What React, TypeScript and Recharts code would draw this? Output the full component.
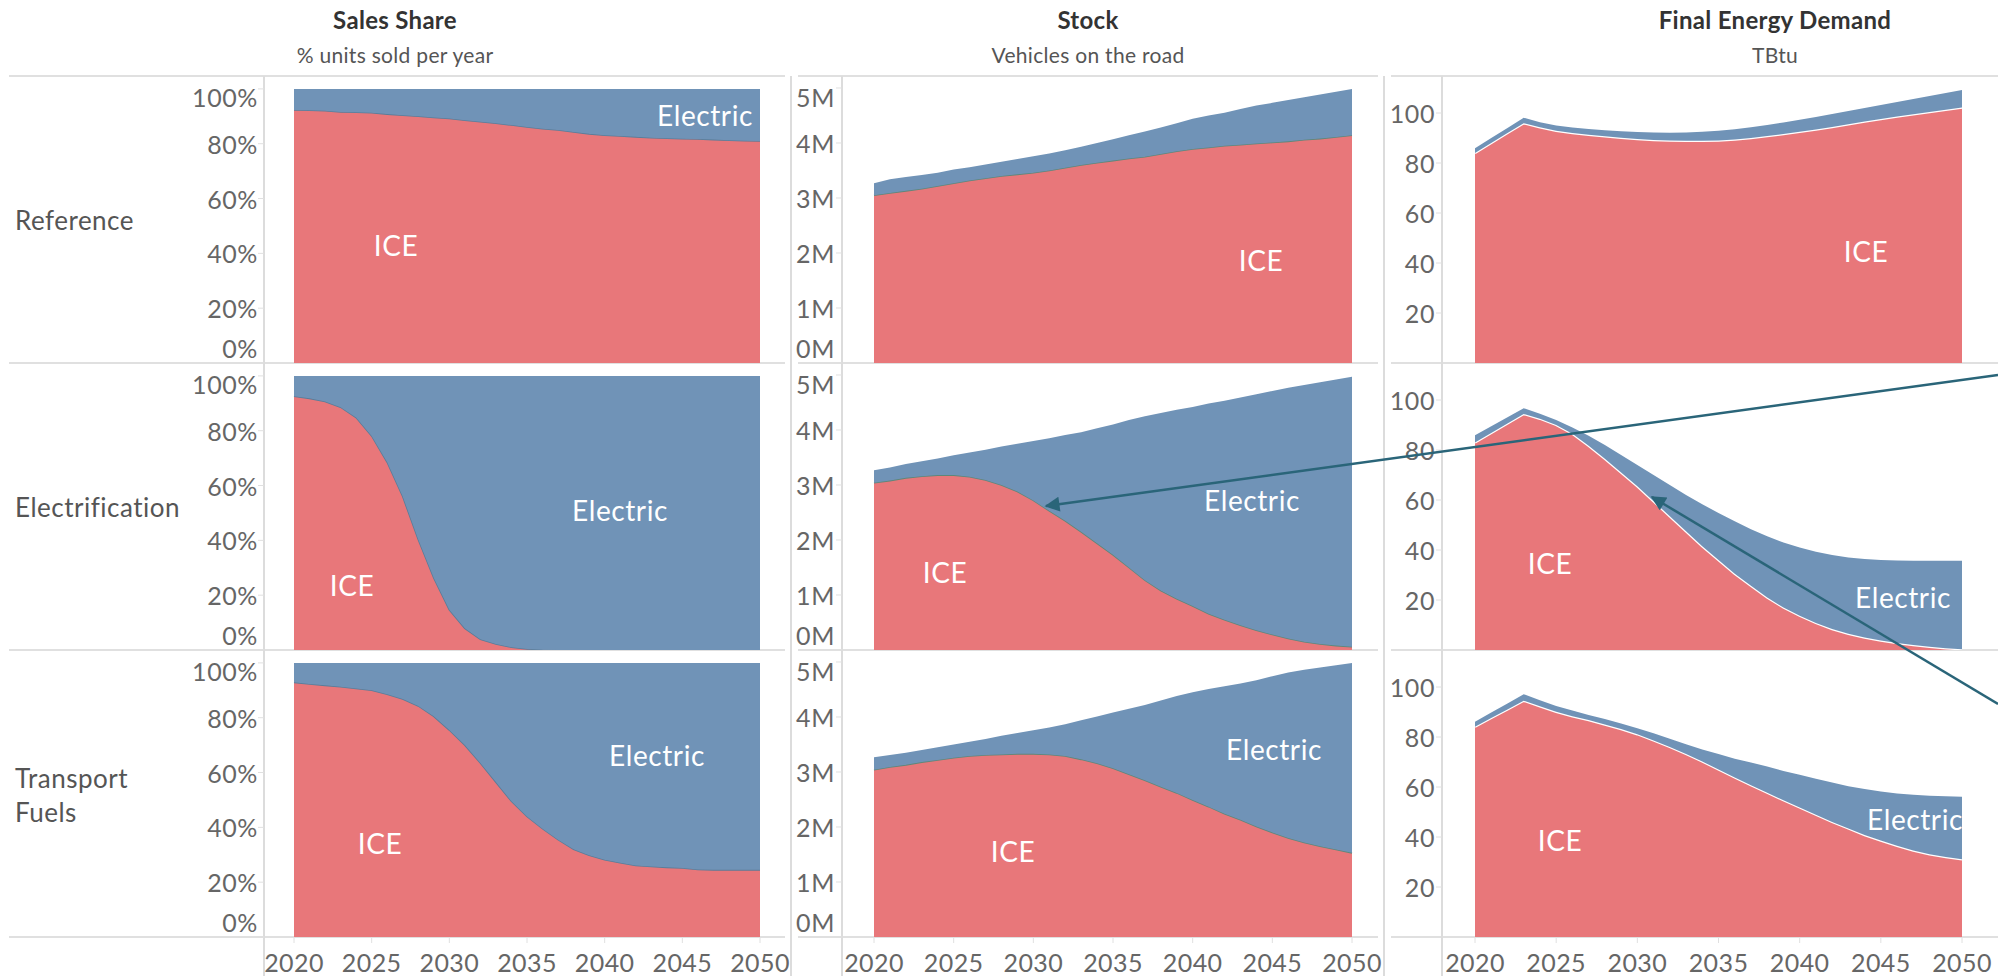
import React from 'react'
import { AreaChart, Area, XAxis, YAxis } from 'recharts'

// years on the x axis
const YEARS = [
  2020, 2021, 2022, 2023, 2024, 2025, 2026, 2027, 2028, 2029, 2030,
  2031, 2032, 2033, 2034, 2035, 2036, 2037, 2038, 2039, 2040,
  2041, 2042, 2043, 2044, 2045, 2046, 2047, 2048, 2049, 2050,
]
const X_TICKS = [2020, 2025, 2030, 2035, 2040, 2045, 2050]

const SCENARIOS = ['Reference', 'Electrification', 'Transport Fuels']

// Sales share (% of units sold)
const salesIceRef = [92.3, 92.2, 92.0, 91.6, 91.5, 91.3, 90.8, 90.4, 90.0, 89.6, 89.2, 88.6, 88.0, 87.5, 86.8, 86.1, 85.5, 85.0, 84.3, 83.6, 83.1, 82.8, 82.5, 82.2, 82.0, 81.8, 81.7, 81.5, 81.3, 81.1, 81.0]
const salesElecRef = [7.7, 7.8, 8.0, 8.4, 8.5, 8.7, 9.2, 9.6, 10.0, 10.4, 10.8, 11.4, 12.0, 12.5, 13.2, 13.9, 14.5, 15.0, 15.7, 16.4, 16.9, 17.2, 17.5, 17.8, 18.0, 18.2, 18.3, 18.5, 18.7, 18.9, 19.0]
const salesIceElz = [92.6, 91.8, 90.7, 88.6, 84.8, 78.1, 68.5, 56.0, 40.3, 26.3, 14.7, 7.9, 3.9, 2.2, 1.0, 0.4, 0.1, 0, 0, 0, 0, 0, 0, 0, 0, 0, 0, 0, 0, 0, 0]
const salesElecElz = [7.4, 8.2, 9.3, 11.4, 15.2, 21.9, 31.5, 44.0, 59.7, 73.7, 85.3, 92.1, 96.1, 97.8, 99.0, 99.6, 99.9, 100, 100, 100, 100, 100, 100, 100, 100, 100, 100, 100, 100, 100, 100]
const salesIceTf = [92.9, 92.3, 91.8, 91.3, 90.7, 90.0, 88.6, 86.8, 84.3, 80.5, 75.5, 70.0, 63.5, 56.5, 49.5, 44.0, 39.5, 35.5, 32.0, 29.8, 28.2, 27.1, 26.1, 25.7, 25.4, 25.2, 24.6, 24.5, 24.5, 24.5, 24.5]
const salesElecTf = [7.1, 7.7, 8.2, 8.7, 9.3, 10.0, 11.4, 13.2, 15.7, 19.5, 24.5, 30.0, 36.5, 43.5, 50.5, 56.0, 60.5, 64.5, 68.0, 70.2, 71.8, 72.9, 73.9, 74.3, 74.6, 74.8, 75.4, 75.5, 75.5, 75.5, 75.5]

// Stock (millions of vehicles)
const stockIceRef = [3.05, 3.09, 3.13, 3.17, 3.22, 3.27, 3.32, 3.36, 3.40, 3.43, 3.46, 3.50, 3.55, 3.60, 3.64, 3.68, 3.72, 3.75, 3.80, 3.85, 3.89, 3.92, 3.95, 3.97, 3.99, 4.01, 4.03, 4.06, 4.08, 4.11, 4.14]
const stockElecRef = [0.22, 0.25, 0.25, 0.25, 0.24, 0.25, 0.24, 0.25, 0.26, 0.28, 0.30, 0.31, 0.32, 0.33, 0.36, 0.39, 0.42, 0.46, 0.48, 0.51, 0.55, 0.58, 0.60, 0.65, 0.69, 0.72, 0.75, 0.77, 0.80, 0.82, 0.84]
const stockIceElz = [3.04, 3.08, 3.13, 3.16, 3.18, 3.18, 3.15, 3.09, 3.00, 2.88, 2.72, 2.53, 2.35, 2.15, 1.94, 1.73, 1.50, 1.27, 1.08, 0.93, 0.80, 0.66, 0.55, 0.45, 0.36, 0.28, 0.21, 0.15, 0.11, 0.08, 0.06]
const stockElecElz = [0.23, 0.24, 0.25, 0.27, 0.30, 0.36, 0.44, 0.55, 0.70, 0.87, 1.08, 1.32, 1.56, 1.81, 2.09, 2.37, 2.68, 2.98, 3.23, 3.44, 3.62, 3.82, 3.98, 4.14, 4.29, 4.43, 4.56, 4.67, 4.76, 4.84, 4.91]
const stockIceTf = [3.04, 3.09, 3.13, 3.18, 3.22, 3.26, 3.29, 3.31, 3.32, 3.33, 3.33, 3.32, 3.29, 3.23, 3.16, 3.07, 2.96, 2.85, 2.73, 2.62, 2.49, 2.37, 2.24, 2.13, 2.01, 1.90, 1.80, 1.72, 1.65, 1.59, 1.53]
const stockElecTf = [0.23, 0.22, 0.22, 0.22, 0.23, 0.24, 0.26, 0.29, 0.34, 0.38, 0.43, 0.49, 0.58, 0.71, 0.85, 1.01, 1.19, 1.37, 1.57, 1.76, 1.96, 2.14, 2.32, 2.48, 2.66, 2.84, 3.01, 3.14, 3.25, 3.35, 3.45]

// Final energy demand (TBtu)
const energyIceRef = [84.0, 88.0, 92.0, 95.9, 94.3, 92.9, 92.0, 91.3, 90.7, 90.1, 89.6, 89.2, 89.0, 88.9, 88.9, 89.0, 89.4, 90.0, 90.8, 91.6, 92.5, 93.4, 94.4, 95.5, 96.6, 97.6, 98.6, 99.5, 100.4, 101.3, 102.2]
const energyElecRef = [1.9, 2.0, 2.0, 2.2, 2.0, 2.1, 2.2, 2.3, 2.4, 2.6, 2.8, 3.0, 3.1, 3.3, 3.6, 3.9, 4.1, 4.3, 4.4, 4.6, 4.8, 5.0, 5.2, 5.3, 5.4, 5.6, 5.8, 6.1, 6.4, 6.7, 7.0]
const energyIceElz = [83.0, 86.8, 90.6, 94.4, 92.5, 90.0, 86.5, 81.7, 76.5, 71.0, 65.5, 59.5, 53.5, 47.5, 41.5, 36.0, 30.5, 25.7, 21.0, 17.0, 13.7, 10.8, 8.4, 6.5, 5.0, 3.8, 2.8, 2.0, 1.3, 0.7, 0.3]
const energyElecElz = [2.9, 2.7, 2.5, 2.3, 2.0, 2.0, 2.5, 4.0, 5.5, 7.0, 8.5, 10.5, 12.5, 14.5, 16.8, 18.8, 21.0, 22.6, 24.5, 26.0, 27.3, 28.5, 29.6, 30.5, 31.4, 32.2, 33.0, 33.7, 34.4, 35.0, 35.4]
const energyIceTf = [84.1, 87.6, 91.0, 94.5, 92.3, 90.1, 88.3, 86.8, 85.0, 83.2, 81.1, 78.6, 76.0, 73.2, 70.2, 67.0, 63.8, 60.7, 57.7, 54.7, 51.8, 48.9, 46.0, 43.4, 40.8, 38.6, 36.5, 34.6, 33.1, 32.0, 31.1]
const energyElecTf = [2.0, 2.2, 2.4, 2.6, 2.4, 2.3, 2.3, 2.0, 2.2, 2.2, 2.4, 2.9, 3.3, 3.9, 4.8, 6.2, 7.5, 9.1, 10.5, 11.7, 13.1, 14.4, 15.8, 16.9, 18.4, 19.6, 20.9, 22.3, 23.4, 24.3, 25.0]

const SERIES = [
  [[salesIceRef, salesElecRef], [stockIceRef, stockElecRef], [energyIceRef, energyElecRef]],
  [[salesIceElz, salesElecElz], [stockIceElz, stockElecElz], [energyIceElz, energyElecElz]],
  [[salesIceTf, salesElecTf], [stockIceTf, stockElecTf], [energyIceTf, energyElecTf]],
]

const ICE_COLOR = '#e8777a'
const ELEC_COLOR = '#7093b7'
const GRID = '#e0e0e0'
const FONT = 'Lato, "Open Sans", sans-serif'

const ROW_TOPS = [76, 363, 650]
const ROW_H = 287
const AXIS_H = 39
const RIGHT_PAD = 36

const COLS = [
  {
    title: 'Sales Share', subtitle: '% units sold per year', titleX: 395,
    plotLeft: 294, plotRight: 760, axisX: 264, labelRight: 258,
    sepLeft: 9, sepRight: 785,
    yMax: 104.7, ticks: [0, 20, 40, 60, 80, 100], fmt: (v: number) => `${v}%`,
    edge: '#5b7c98', edgeW: 1.6,
  },
  {
    title: 'Stock', subtitle: 'Vehicles on the road', titleX: 1088,
    plotLeft: 874, plotRight: 1352, axisX: 842, labelRight: 835,
    sepLeft: 798, sepRight: 1378,
    yMax: 5.218, ticks: [0, 1, 2, 3, 4, 5], fmt: (v: number) => `${v}M`,
    edge: '#5f8779', edgeW: 1.6,
  },
  {
    title: 'Final Energy Demand', subtitle: 'TBtu', titleX: 1775,
    plotLeft: 1475, plotRight: 1962, axisX: 1442, labelRight: 1435,
    sepLeft: 1391, sepRight: 1998,
    yMax: 114.8, ticks: [20, 40, 60, 80, 100], fmt: (v: number) => `${v}`,
    edge: '#ffffff', edgeW: 2.4,
  },
]

// in-area series labels (centre positions)
const AREA_LABELS = [
  { text: 'ICE', x: 396, y: 245 }, { text: 'Electric', x: 705, y: 115 },
  { text: 'ICE', x: 1261, y: 260 }, { text: 'ICE', x: 1866, y: 251 },
  { text: 'ICE', x: 352, y: 585 }, { text: 'Electric', x: 620, y: 510 },
  { text: 'ICE', x: 945, y: 572 }, { text: 'Electric', x: 1252, y: 500 },
  { text: 'ICE', x: 1550, y: 563 }, { text: 'Electric', x: 1903, y: 597 },
  { text: 'ICE', x: 380, y: 843 }, { text: 'Electric', x: 657, y: 755 },
  { text: 'ICE', x: 1013, y: 851 }, { text: 'Electric', x: 1274, y: 749 },
  { text: 'ICE', x: 1560, y: 840 }, { text: 'Electric', x: 1915, y: 819 },
]

function Panel({ row, col }: { row: number; col: number }) {
  const c = COLS[col]
  const [ice, elec] = SERIES[row][col]
  const data = YEARS.map((year, i) => ({ year, ice: ice[i], elec: elec[i] }))
  const chartLeft = c.labelRight - 74
  const yAxisW = c.plotLeft - chartLeft
  const width = c.plotRight - chartLeft + RIGHT_PAD
  const bottom = row === 2
  const height = ROW_H + (bottom ? AXIS_H : 0)

  const yTick = (props: any) => {
    const y = Math.min(Math.max(props.y, 21), ROW_H - 15)
    const ax = c.axisX - chartLeft
    return (
      <g>
        <line x1={ax - 6} x2={ax} y1={props.y} y2={props.y} stroke={GRID} strokeWidth={1} />
        <text x={c.labelRight - chartLeft} y={y} textAnchor="end" dominantBaseline="central"
          fontSize={25} letterSpacing={0.6} fill="#666" fontFamily={FONT}>
          {c.fmt(props.payload.value)}
        </text>
      </g>
    )
  }

  const xTick = (props: any) => (
    <g>
      <line x1={props.x} x2={props.x} y1={ROW_H} y2={ROW_H + 6} stroke={GRID} strokeWidth={1} />
      <text x={props.x} y={ROW_H + 25} textAnchor="middle" dominantBaseline="central"
        fontSize={25} letterSpacing={0.4} fill="#666" fontFamily={FONT}>
        {props.payload.value}
      </text>
    </g>
  )

  return (
    <div style={{ position: 'absolute', left: chartLeft, top: ROW_TOPS[row], width, height }}>
      <AreaChart width={width} height={height} data={data} margin={{ top: 0, right: RIGHT_PAD, bottom: 0, left: 0 }}>
        <XAxis dataKey="year" type="number" domain={[2020, 2050]} ticks={X_TICKS}
          hide={!bottom} height={AXIS_H} axisLine={false} tickLine={false} tick={xTick} interval={0} />
        <YAxis type="number" domain={[0, c.yMax]} ticks={c.ticks} allowDataOverflow
          width={yAxisW} axisLine={false} tickLine={false} tick={yTick} interval={0} />
        <Area type="linear" dataKey="ice" stackId="s" fill={ICE_COLOR} fillOpacity={1}
          stroke={c.edge} strokeWidth={c.edgeW} isAnimationActive={false} />
        <Area type="linear" dataKey="elec" stackId="s" fill={ELEC_COLOR} fillOpacity={1}
          stroke="none" isAnimationActive={false} />
      </AreaChart>
    </div>
  )
}

export default function App() {
  const rowBottoms = [76, 363, 650, 937]
  return (
    <div style={{ position: 'absolute', left: 0, top: 0, width: 1998, height: 976, background: '#fff', fontFamily: FONT, overflow: 'hidden' }}>
      {/* column headers */}
      {COLS.map((c) => (
        <React.Fragment key={c.title}>
          <div style={{ position: 'absolute', left: c.titleX - 300, width: 600, top: 4, textAlign: 'center', fontSize: 24, fontWeight: 700, color: '#333', lineHeight: '32px', letterSpacing: 0.3 }}>{c.title}</div>
          <div style={{ position: 'absolute', left: c.titleX - 300, width: 600, top: 41, textAlign: 'center', fontSize: 21, color: '#555', lineHeight: '28px', letterSpacing: 0.3 }}>{c.subtitle}</div>
        </React.Fragment>
      ))}

      {/* grid lines */}
      {COLS.map((c) => rowBottoms.map((y) => (
        <div key={`${c.title}-${y}`} style={{ position: 'absolute', left: c.sepLeft, width: c.sepRight - c.sepLeft, top: y - 1, height: 2, background: GRID }} />
      )))}
      {[264, 791, 842, 1384, 1442].map((x) => (
        <div key={x} style={{ position: 'absolute', left: x - 1, width: 1.5, top: 76, height: 900, background: '#dcdcdc' }} />
      ))}

      {/* row headers */}
      {SCENARIOS.map((s, i) => (
        <div key={s} style={{ position: 'absolute', left: 15, top: i === 2 ? 761 : ROW_TOPS[i] + 128, width: 200, fontSize: 26, letterSpacing: 0.5, color: '#555', lineHeight: i === 2 ? '34px' : '32px' }}>
          {i === 2 ? (<>Transport<br />Fuels</>) : s}
        </div>
      ))}

      {/* panels */}
      {[0, 1, 2].map((r) => [0, 1, 2].map((c) => <Panel key={`${r}-${c}`} row={r} col={c} />))}

      {/* series labels */}
      {AREA_LABELS.map((l, i) => (
        <div key={i} style={{ position: 'absolute', left: l.x - 80, width: 160, top: l.y - 18, lineHeight: '36px', textAlign: 'center', color: '#fff', fontSize: 28, letterSpacing: 0.6 }}>{l.text}</div>
      ))}

      {/* annotation arrows */}
      <svg width={1998} height={976} style={{ position: 'absolute', left: 0, top: 0, pointerEvents: 'none' }}>
        <defs>
          <marker id="arr" viewBox="0 0 10 10" refX="9" refY="5" markerWidth="7" markerHeight="6" orient="auto" markerUnits="strokeWidth">
            <path d="M0,0 L10,5 L0,10 z" fill="#2a6579" />
          </marker>
        </defs>
        <line x1={1998} y1={375} x2={1046} y2={506} stroke="#2a6579" strokeWidth={2.5} markerEnd="url(#arr)" />
        <line x1={1998} y1={704} x2={1652} y2={497} stroke="#2a6579" strokeWidth={2.5} markerEnd="url(#arr)" />
      </svg>
    </div>
  )
}
